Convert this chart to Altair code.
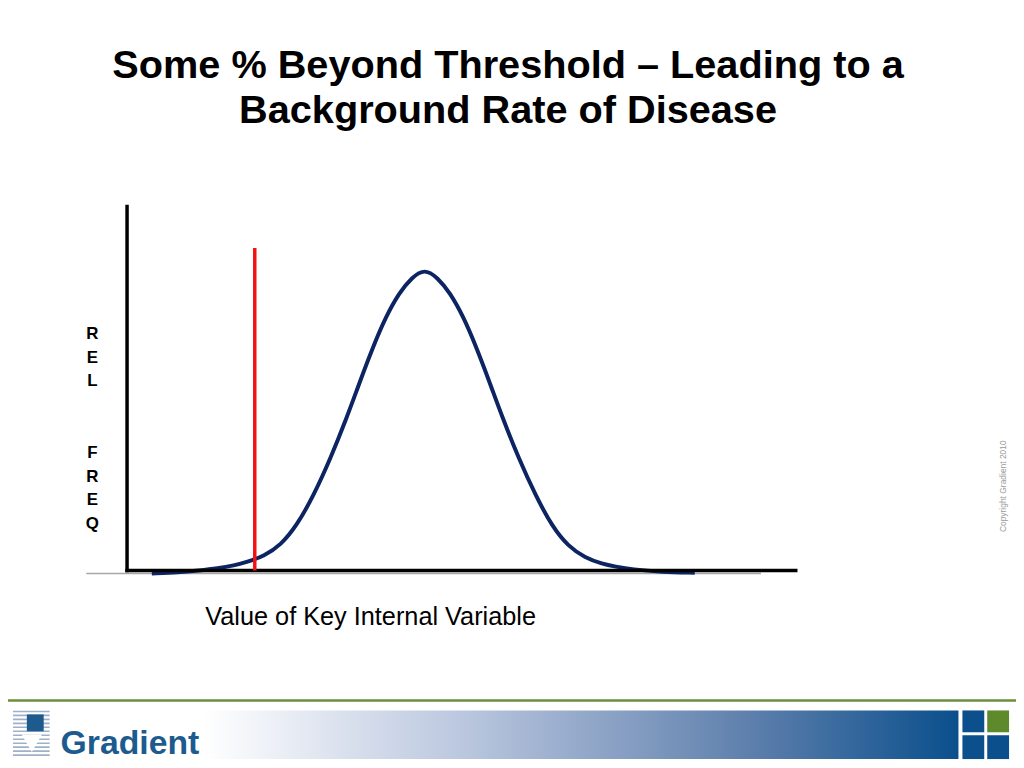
import altair as alt
import pandas as pd

# ---------------- data ----------------
# x: value of key internal variable (0..100 along the drawn axis)
# y: relative frequency (0..100 along the drawn axis)
curve_x = [3.7, 7.7, 10.7, 13.6, 16.0, 17.9, 20.5, 23.0, 25.4, 27.9, 30.4, 32.8,
           34.8, 36.8, 38.7, 40.7, 42.6, 44.5, 46.4, 48.3, 50.3, 52.2, 54.2, 56.2,
           58.6, 61.1, 63.6, 66.0, 68.5, 71.1, 73.0, 75.5, 80.0, 84.9]
curve_y = [-0.8, -0.5, 0.0, 0.6, 1.4, 2.3, 4.0, 7.0, 12.4, 20.6, 30.7, 41.7,
           51.8, 61.5, 69.7, 76.3, 80.5, 82.9, 80.5, 76.3, 69.7, 61.5, 51.8, 41.7,
           30.7, 20.6, 12.0, 6.6, 3.5, 1.8, 1.1, 0.3, -0.4, -0.6]
threshold_x = [19.1]
threshold_top = [88.6]
axis_max = 100

title_lines = ["Some % Beyond Threshold \u2013 Leading to a", "Background Rate of Disease"]
ylabel_top = ["R", "E", "L"]
ylabel_bottom = ["F", "R", "E", "Q"]
xlabel = "Value of Key Internal Variable"
copyright_text = "Copyright Gradient 2010"
brand = "Gradient"

# ---------------- scales ----------------
W, H = 1016, 760
xs = alt.Scale(domain=[-120 / 6.74, 896 / 6.74], nice=False, zero=False)
ys = alt.Scale(domain=[(564 - 760) / 3.67, 564 / 3.67], nice=False, zero=False)

one = pd.DataFrame({"k": [0]})

curve_df = pd.DataFrame({"x": curve_x, "y": curve_y})
thr_df = pd.DataFrame({"x": threshold_x, "y0": [0] * len(threshold_x), "y1": threshold_top})
axes_df = pd.DataFrame({"x0": [0, 0], "x1": [0, axis_max], "y0": [0, 0], "y1": [axis_max, 0]})

gray_base = alt.Chart(one).mark_rule(color="#a6a6a6", strokeWidth=1.5).encode(
    x=alt.datum(-6.1, scale=xs, axis=None), x2=alt.datum(94.8),
    y=alt.datum(-0.8, scale=ys, axis=None))

curve = alt.Chart(curve_df).mark_line(color="#0c2461", strokeWidth=4, interpolate="basis").encode(
    x=alt.X("x:Q", scale=xs, axis=None),
    y=alt.Y("y:Q", scale=ys, axis=None),
    order="x:Q")

axes = alt.Chart(axes_df).mark_rule(color="#000000", strokeWidth=3.5, strokeCap="square").encode(
    x=alt.X("x0:Q", scale=xs, axis=None), x2="x1:Q",
    y=alt.Y("y0:Q", scale=ys, axis=None), y2="y1:Q")

threshold = alt.Chart(thr_df).mark_rule(color="#f21212", strokeWidth=3.5).encode(
    x=alt.X("x:Q", scale=xs, axis=None),
    y=alt.Y("y0:Q", scale=ys, axis=None), y2="y1:Q")

# ---------------- texts ----------------
title = alt.Chart(one).mark_text(
    text=title_lines, font="Liberation Sans", fontWeight="bold", fontSize=40,
    lineHeight=45, align="center", baseline="alphabetic", color="#000000"
).encode(x=alt.value(504), y=alt.value(68))

ylabel1 = alt.Chart(one).mark_text(
    text=ylabel_top, font="Liberation Sans", fontWeight="bold", fontSize=17,
    lineHeight=23.6, align="center", baseline="middle", color="#000000"
).encode(x=alt.value(85), y=alt.value(326))

ylabel2 = alt.Chart(one).mark_text(
    text=ylabel_bottom, font="Liberation Sans", fontWeight="bold", fontSize=17,
    lineHeight=23.6, align="center", baseline="middle", color="#000000"
).encode(x=alt.value(85), y=alt.value(446))

xlab = alt.Chart(one).mark_text(
    text=xlabel, font="Liberation Sans", fontSize=25.5, align="center",
    baseline="alphabetic", color="#000000"
).encode(x=alt.value(365.5), y=alt.value(619))

copyright_mark = alt.Chart(one).mark_text(
    text=copyright_text, font="Liberation Sans", fontSize=8.5, angle=270,
    align="center", baseline="middle", color="#9a9a9a"
).encode(x=alt.value(1003), y=alt.value(479))

# ---------------- footer ----------------
green_line = alt.Chart(one).mark_rule(color="#6a8f3c", strokeWidth=2.5).encode(
    x=alt.value(-8), x2=alt.value(1016), y=alt.value(695))

grad = alt.Gradient(
    gradient="linear", x1=0, x2=1, y1=0, y2=0,
    stops=[alt.GradientStop(color="#ffffff", offset=0),
           alt.GradientStop(color="#b9c6de", offset=0.35),
           alt.GradientStop(color="#5f80ad", offset=0.72),
           alt.GradientStop(color="#0a4f8c", offset=1)])
grad_bar = alt.Chart(one).mark_rect(color=grad).encode(
    x=alt.value(197), x2=alt.value(958), y=alt.value(705), y2=alt.value(754))

sq_specs = [(962, 984, 705, 727, "#0b4f8c"), (962, 984, 730, 754, "#0b4f8c"),
            (987, 1009, 705, 727, "#5e8a2c"), (987, 1009, 730, 754, "#0b4f8c")]
squares = [alt.Chart(one).mark_rect(color=c).encode(
    x=alt.value(a), x2=alt.value(b), y=alt.value(t), y2=alt.value(u))
    for a, b, t, u, c in sq_specs]

stripes = [alt.Chart(one).mark_rule(color="#9fb1c8", strokeWidth=1.6).encode(
    x=alt.value(5), x2=alt.value(42), y=alt.value(706 + 4 * i)) for i in range(12)]
notch = alt.Chart(one).mark_point(shape="triangle-down", filled=True, color="#ffffff",
                                  opacity=1, size=420).encode(
    x=alt.value(24), y=alt.value(738))
logo_sq = alt.Chart(one).mark_rect(color="#1d5b8f").encode(
    x=alt.value(19), x2=alt.value(36), y=alt.value(709), y2=alt.value(726))

brand_text = alt.Chart(one).mark_text(
    text=brand, font="Liberation Sans", fontWeight="bold", fontSize=34,
    align="left", baseline="alphabetic", color="#1d5b8f"
).encode(x=alt.value(53), y=alt.value(749))

chart = alt.layer(
    gray_base, curve, axes, threshold, title, ylabel1, ylabel2, xlab, copyright_mark,
    green_line, grad_bar, *squares, *stripes, notch, logo_sq, brand_text
).properties(
    width=W, height=H, autosize="none", padding=0, background="#ffffff"
).configure_view(stroke=None)

chart.save("out.html", embed_options={"renderer": "svg", "actions": False})
